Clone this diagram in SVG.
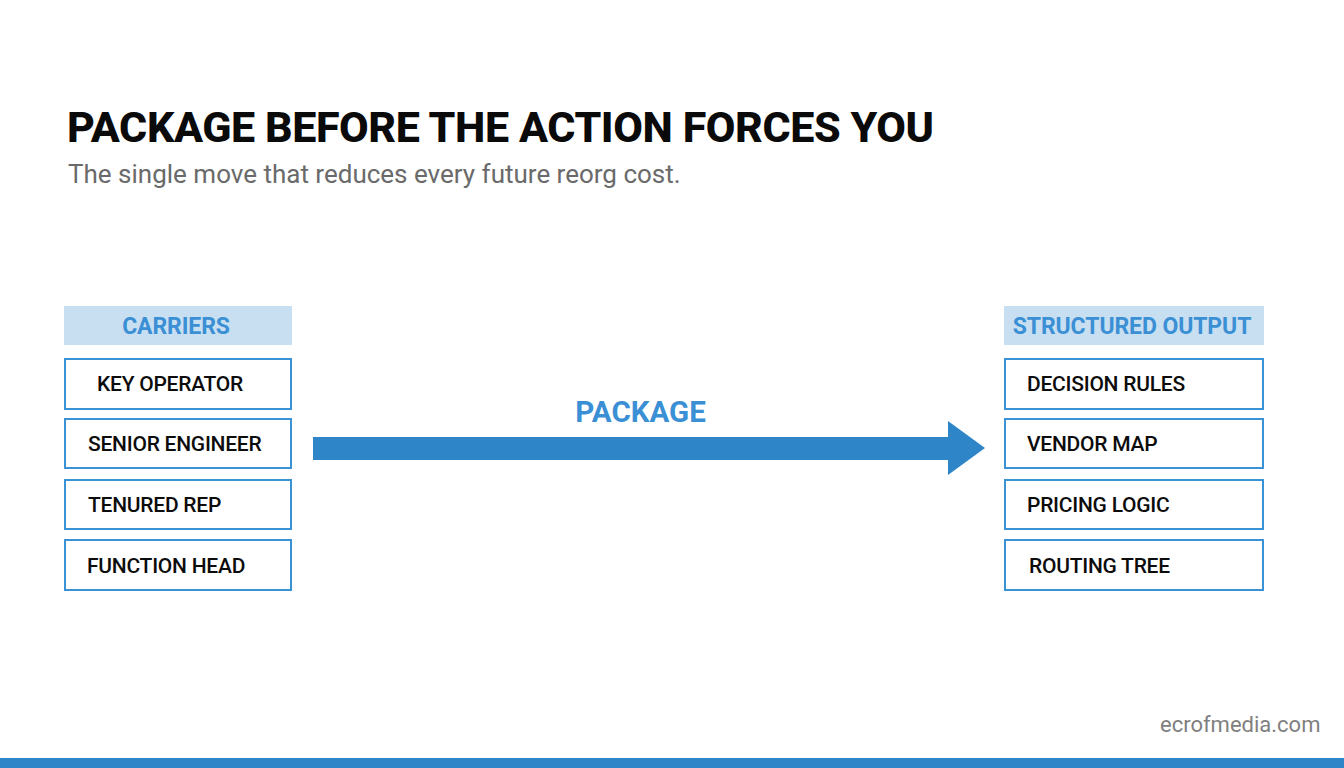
<svg xmlns="http://www.w3.org/2000/svg" width="1344" height="768" viewBox="0 0 1344 768">
<style>
.t{font-family:Roboto,"Liberation Sans",sans-serif}
.box{fill:#fff;stroke:#3b93d6;stroke-width:2}
.hd{fill:#c8dff2}
.lb{font-size:21px;font-weight:500;fill:#0c0c0c;letter-spacing:-0.25px}
.hl{font-size:23px;font-weight:700;fill:#3b8fd4;text-anchor:middle;letter-spacing:-0.1px}
</style>
<rect width="1344" height="768" fill="#fff"/>
<text class="t" x="67" y="142" font-size="43" font-weight="800" fill="#0a0a0a" textLength="867" lengthAdjust="spacing">PACKAGE BEFORE THE ACTION FORCES YOU</text>
<text class="t" x="68" y="183" font-size="26" fill="#6a6a6a">The single move that reduces every future reorg cost.</text>
<g id="carriers"><rect class="hd" x="64" y="306" width="228" height="39"/><text class="t hl" x="176" y="334">CARRIERS</text></g>
<g id="key-operator"><rect class="box" x="65" y="359" width="226" height="50"/><text class="t lb" x="97" y="391">KEY OPERATOR</text></g>
<g id="senior-engineer"><rect class="box" x="65" y="419" width="226" height="49"/><text class="t lb" x="88" y="451">SENIOR ENGINEER</text></g>
<g id="tenured-rep"><rect class="box" x="65" y="480" width="226" height="49"/><text class="t lb" x="88" y="512">TENURED REP</text></g>
<g id="function-head"><rect class="box" x="65" y="540" width="226" height="50"/><text class="t lb" x="87" y="573">FUNCTION HEAD</text></g>
<g id="structured-output"><rect class="hd" x="1004" y="306" width="260" height="39"/><text class="t hl" x="1132" y="334">STRUCTURED OUTPUT</text></g>
<g id="decision-rules"><rect class="box" x="1005" y="359" width="258" height="50"/><text class="t lb" x="1027" y="391">DECISION RULES</text></g>
<g id="vendor-map"><rect class="box" x="1005" y="419" width="258" height="49"/><text class="t lb" x="1027" y="451">VENDOR MAP</text></g>
<g id="pricing-logic"><rect class="box" x="1005" y="480" width="258" height="49"/><text class="t lb" x="1027" y="512">PRICING LOGIC</text></g>
<g id="routing-tree"><rect class="box" x="1005" y="540" width="258" height="50"/><text class="t lb" x="1029" y="573">ROUTING TREE</text></g>
<g id="connectors"><polygon points="313,437 948,437 948,421 985,448 948,475 948,460 313,460" fill="#2e86c8"/></g>
<text class="t" x="640.500" y="422" font-size="29.500" font-weight="700" fill="#3b8fd4" text-anchor="middle">PACKAGE</text>
<text class="t" x="1160" y="732" font-size="22" fill="#808080">ecrofmedia.com</text>
<rect x="0" y="758" width="1344" height="10" fill="#2e86c8"/>
</svg>
